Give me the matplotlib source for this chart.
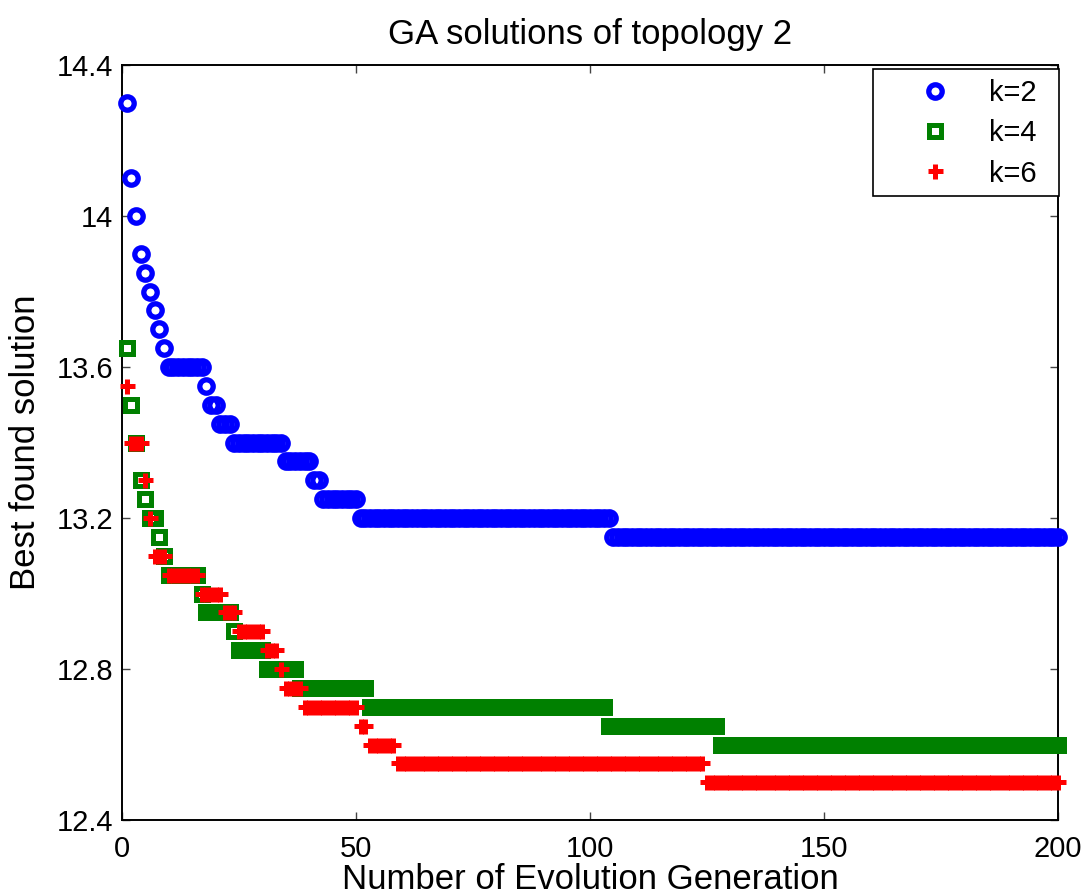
import numpy as np
import matplotlib
matplotlib.use("Agg")
import matplotlib.pyplot as plt
from matplotlib.patches import Rectangle

# ---- data: step levels and how many generations each level lasts ----
k2_levels = [14.30, 14.10, 14.00, 13.90, 13.85, 13.80, 13.75, 13.70, 13.65,
             13.60, 13.55, 13.50, 13.45, 13.40, 13.35, 13.30, 13.25, 13.20, 13.15]
k2_runs = [1, 1, 1, 1, 1, 1, 1, 1, 1,
           8, 1, 2, 3, 11, 6, 2, 8, 54, 96]

k4_levels = [13.65, 13.50, 13.40, 13.30, 13.25, 13.20, 13.15, 13.10, 13.05,
             13.00, 12.95, 12.90, 12.85, 12.80, 12.75, 12.70, 12.65, 12.60]
k4_runs = [1, 1, 1, 1, 1, 2, 1, 1, 7,
           1, 6, 1, 6, 7, 15, 51, 24, 73]

k6_levels = [13.55, 13.40, 13.30, 13.20, 13.10, 13.05, 13.00, 12.95, 12.90,
             12.85, 12.80, 12.75, 12.70, 12.65, 12.60, 12.55, 12.50]
k6_runs = [1, 3, 1, 1, 3, 7, 5, 3, 6,
           3, 1, 4, 12, 2, 6, 66, 76]

labels = ["k=2", "k=4", "k=6"]
title = "GA solutions of topology 2"
xlabel = "Number of Evolution Generation"
ylabel = "Best found solution"
xticks = [0, 50, 100, 150, 200]
yticks = [12.4, 12.8, 13.2, 13.6, 14.0, 14.4]
ytick_labels = ["12.4", "12.8", "13.2", "13.6", "14", "14.4"]

k2 = np.repeat(k2_levels, k2_runs)
k4 = np.repeat(k4_levels, k4_runs)
k6 = np.repeat(k6_levels, k6_runs)
gens = np.arange(1, len(k2) + 1)

plt.rcParams['font.family'] = ['Liberation Sans', 'DejaVu Sans']

W, H = 1087, 896
fig = plt.figure(figsize=(W / 100, H / 100), dpi=100)
ax = fig.add_axes([122 / W, 1 - 820 / H, (1058 - 122) / W, (820 - 65) / H])

PX = 72 / 100.0  # points per pixel
ax.plot(gens, k2, linestyle='none', marker='o', ms=13.4 * PX, mew=5.3 * PX,
        mfc='none', mec=(0, 0, 1), label=labels[0], clip_on=False, zorder=3)
ax.plot(gens, k4, linestyle='none', marker='s', ms=12 * PX, mew=5 * PX,
        mfc='none', mec=(0, 0.5, 0), label=labels[1], clip_on=False, zorder=3)
ax.plot(gens, k6, linestyle='none', marker='+', ms=15 * PX, mew=5 * PX,
        mec=(1, 0, 0), label=labels[2], clip_on=False, zorder=3)

ax.set_xlim(0, 200)
ax.set_ylim(12.4, 14.4)
ax.set_xticks(xticks)
ax.set_yticks(yticks)
ax.set_yticklabels(ytick_labels)
ax.tick_params(direction='in', length=8 * PX, width=1.0, color='#444444',
               labelsize=21, top=True, right=True)
ax.tick_params(axis='x', pad=11)
ax.tick_params(axis='y', pad=6.5)
for s in ax.spines.values():
    s.set_linewidth(1.4)
    s.set_color('black')

ax.set_title(title, fontsize=25, pad=15)
ax.set_xlabel(xlabel, fontsize=25, labelpad=0)
ax.set_ylabel(ylabel, fontsize=25, labelpad=10)

# legend box drawn as a rectangle, entries placed inside it
bx0, bx1, by0, by1 = 873, 1059, 69, 196
ax.add_patch(Rectangle((bx0 / W, 1 - by1 / H), (bx1 - bx0) / W, (by1 - by0) / H,
                       transform=fig.transFigure, facecolor='white',
                       edgecolor='black', linewidth=1.2, zorder=4, clip_on=False))
leg = ax.legend(loc='upper left', bbox_to_anchor=(bx0 / W, 1 - by0 / H),
                bbox_transform=fig.transFigure, borderaxespad=0, fontsize=21,
                frameon=False, numpoints=1, handlelength=3.55,
                handletextpad=0.08, labelspacing=0.42, borderpad=0.35)
leg.set_zorder(5)

fig.savefig("out.png", dpi=100)
